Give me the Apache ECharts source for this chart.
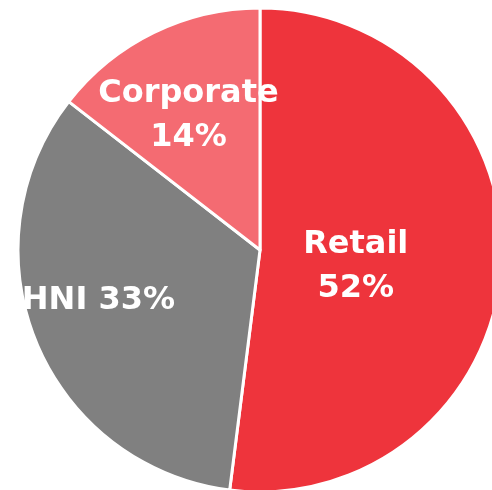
<!DOCTYPE html>
<html>
<head>
<meta charset="utf-8">
<script src="https://cdn.jsdelivr.net/npm/echarts@6/dist/echarts.min.js"></script>
<style>
  html, body { margin: 0; padding: 0; background: #fff; }
  #chart { width: 492px; height: 490px; }
</style>
</head>
<body>
<div id="chart"></div>
<script>
// segment data
const segments = ['Retail', 'HNI', 'Corporate'];
const shares = [52, 33.5, 14.5];
const shareLabels = ['52%', '33%', '14%'];
const colors = ['#ee343c', '#808080', '#f46b72'];

// label text layout per slice
const labelText = [
  segments[0] + '\n' + shareLabels[0],
  segments[1] + ' ' + shareLabels[1],
  segments[2] + '\n' + shareLabels[2]
];
const labelOffsets = [[-28, 9], [-47, 3], [-17, -23]];

const chart = echarts.init(document.getElementById('chart'));
chart.setOption({
  animation: false,
  series: [
    {
      type: 'pie',
      center: [260, 250],
      radius: 242,
      startAngle: 90,
      clockwise: true,
      itemStyle: {
        borderColor: '#ffffff',
        borderWidth: 3
      },
      label: {
        show: true,
        position: 'inside',
        color: '#ffffff',
        fontFamily: 'DejaVu Sans',
        fontWeight: 'bold',
        fontSize: 32,
        lineHeight: 44,
        formatter: p => labelText[p.dataIndex]
      },
      labelLine: { show: false },
      emphasis: { disabled: true },
      data: segments.map((name, i) => ({
        name,
        value: shares[i],
        itemStyle: { color: colors[i] },
        label: { offset: labelOffsets[i] }
      }))
    }
  ]
});
</script>
</body>
</html>
